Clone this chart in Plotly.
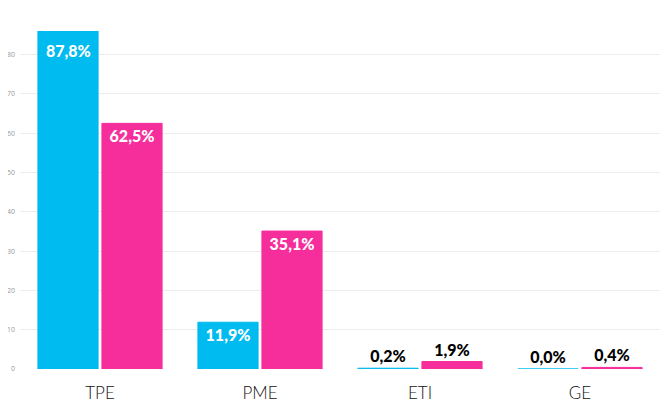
import plotly.graph_objects as go

categories = ["TPE", "PME", "ETI", "GE"]
series_a = [87.8, 11.9, 0.2, 0.0]
series_b = [62.5, 35.1, 1.9, 0.4]
tick_vals = [0, 10, 20, 30, 40, 50, 60, 70, 80]
y_max = 86

blue = "#00BBF0"
pink = "#F62E9C"
label_font = dict(size=16, family="Lato", weight=900)

def fmt(v):
    return f"{v:.1f}".replace(".", ",") + "%"

def pos(v):
    if v > y_max:
        return "none"
    return "inside" if v > 5 else "outside"

fig = go.Figure()
series = [(series_a, blue, -0.2), (series_b, pink, 0.2)]
for vals, col, off in series:
    fig.add_trace(go.Bar(
        x=categories, y=vals, marker=dict(color=col, line=dict(color=col, width=1)),
        text=[fmt(v) for v in vals], textposition=[pos(v) for v in vals], textangle=0,
        insidetextanchor="end",
        insidetextfont=dict(color="white", **label_font),
        outsidetextfont=dict(color="black", **label_font),
        cliponaxis=True, constraintext="none",
    ))
    # labels of bars clipped by the axis range: placed at the top of the visible bar
    for i, v in enumerate(vals):
        if v > y_max:
            fig.add_annotation(x=i + off, y=y_max, yanchor="top", yshift=-8,
                               text=fmt(v), showarrow=False,
                               font=dict(color="white", **label_font))

fig.update_layout(
    width=661, height=397, margin=dict(l=12, r=9, t=23, b=36),
    plot_bgcolor="white", paper_bgcolor="white", showlegend=False,
    barmode="group", bargap=0.2, bargroupgap=0.06,
    xaxis=dict(tickfont=dict(family="Lato", size=17, color="#111", weight=300), ticks="",
               showline=False, ticklabelstandoff=12, automargin=False),
    yaxis=dict(range=[0, y_max], tickvals=tick_vals, tickfont=dict(size=7, color="#999"),
               gridcolor="#EDEDED", zeroline=False, showline=False, automargin=False,
               ticklabelstandoff=4),
)
fig.write_html("out.html")
